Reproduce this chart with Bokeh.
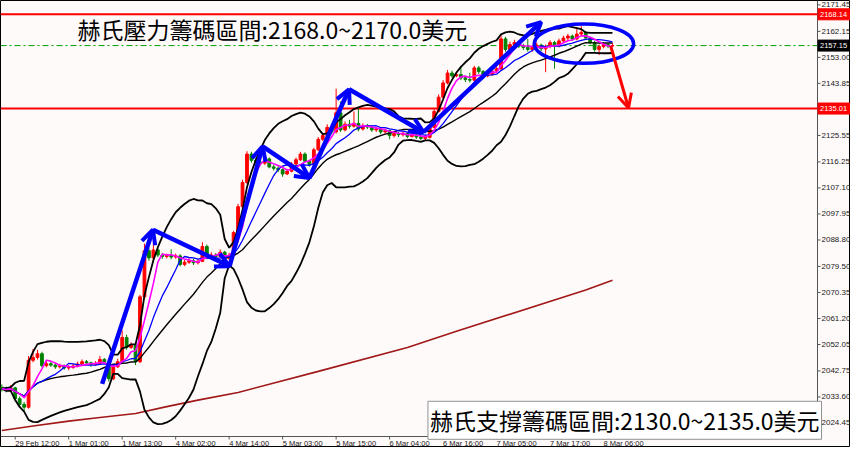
import pandas as pd
from bokeh.plotting import figure
from bokeh.models import Range1d, Label, Arrow, OpenHead, ColumnDataSource
from bokeh.core.properties import value
from bokeh.embed import file_html
from bokeh.resources import INLINE

# ---------------- data ----------------
first_open = 2037.0
closes = [2036.5, 2036.0, 2036.8, 2033.0, 2031.0, 2030.0, 2046.5, 2047.5, 2048.8, 2044.6,
          2045.3, 2044.8, 2044.2, 2044.6, 2043.8, 2044.0, 2044.5, 2045.2, 2046.0, 2045.6,
          2045.0, 2045.3, 2046.8, 2045.8, 2040.0, 2044.2, 2046.0, 2054.5, 2051.0, 2051.8,
          2046.0, 2068.8, 2085.0, 2082.5, 2085.3, 2083.5, 2083.0, 2083.4, 2082.8, 2083.2,
          2080.2, 2081.0, 2081.5, 2080.8, 2081.3, 2086.5, 2082.8, 2083.5, 2083.0, 2084.5,
          2082.3, 2083.5, 2091.4, 2100.5, 2109.0, 2119.0, 2116.8, 2116.2, 2115.8, 2117.3,
          2114.5, 2114.0, 2113.5, 2112.0, 2113.0, 2115.5, 2117.0, 2119.0, 2116.5, 2115.3,
          2120.5, 2124.2, 2125.5, 2128.4, 2126.8, 2133.5, 2127.5, 2129.5, 2128.8, 2129.8,
          2127.8, 2129.0, 2128.5, 2127.5, 2127.8, 2126.8, 2127.2, 2125.5, 2126.2, 2125.8,
          2126.3, 2125.2, 2125.8, 2125.0, 2124.5, 2124.9, 2128.4, 2134.0, 2139.0, 2144.0,
          2147.5, 2146.5, 2147.0, 2145.8, 2145.2, 2145.0, 2149.3, 2148.0, 2146.5, 2147.0,
          2148.2, 2149.0, 2159.5, 2155.8, 2157.5, 2158.2, 2157.0, 2156.5, 2155.8, 2156.5,
          2157.3, 2156.0, 2156.8, 2158.2, 2157.0, 2158.8, 2159.8, 2160.5, 2159.5, 2161.2,
          2161.8, 2159.8, 2158.2, 2155.8, 2156.8, 2157.5, 2157.0, 2157.15]
highs = [2038.0, 2037.2, 2037.8, 2037.2, 2033.8, 2031.8, 2048.0, 2050.5, 2050.2, 2049.5,
         2046.2, 2046.0, 2045.4, 2045.3, 2045.0, 2044.8, 2045.2, 2046.0, 2046.8, 2046.6,
         2046.0, 2046.2, 2048.0, 2047.3, 2046.3, 2045.0, 2047.0, 2057.0, 2055.5, 2052.8,
         2052.3, 2069.5, 2087.5, 2086.0, 2088.0, 2086.0, 2084.3, 2084.0, 2085.5, 2084.0,
         2083.8, 2081.8, 2082.4, 2082.2, 2082.0, 2088.0, 2087.2, 2084.5, 2084.2, 2085.5,
         2085.0, 2084.3, 2092.0, 2101.5, 2110.0, 2120.0, 2119.8, 2117.8, 2117.0, 2118.2,
         2117.8, 2115.2, 2114.8, 2114.0, 2113.8, 2116.2, 2117.8, 2119.8, 2119.6, 2117.0,
         2121.2, 2125.0, 2126.5, 2129.5, 2129.0, 2142.0, 2137.5, 2130.5, 2131.0, 2134.0,
         2135.0, 2129.8, 2129.6, 2129.0, 2128.6, 2128.3, 2128.0, 2127.6, 2127.0, 2126.8,
         2127.0, 2126.8, 2126.5, 2126.3, 2125.6, 2125.8, 2129.0, 2134.8, 2140.0, 2145.0,
         2148.6, 2148.3, 2148.0, 2150.0, 2146.5, 2147.6, 2150.0, 2150.0, 2148.6, 2147.8,
         2149.0, 2149.8, 2161.0, 2160.2, 2158.5, 2159.2, 2158.8, 2157.8, 2159.5, 2157.3,
         2158.2, 2157.8, 2157.5, 2159.0, 2158.8, 2159.6, 2160.6, 2161.3, 2161.0, 2163.5,
         2164.0, 2162.3, 2160.3, 2158.8, 2157.5, 2158.3, 2158.0, 2158.0]
lows = [2035.5, 2035.2, 2035.5, 2032.0, 2030.0, 2028.5, 2029.5, 2045.8, 2046.8, 2044.0,
        2044.0, 2044.2, 2043.5, 2043.6, 2043.2, 2043.0, 2043.5, 2044.0, 2044.8, 2045.0,
        2044.2, 2044.5, 2045.0, 2045.2, 2039.0, 2039.5, 2043.8, 2045.5, 2050.2, 2050.5,
        2044.8, 2045.5, 2068.0, 2081.5, 2082.0, 2082.8, 2082.2, 2082.3, 2082.0, 2082.2,
        2079.5, 2079.6, 2080.4, 2080.0, 2080.2, 2081.0, 2082.0, 2082.3, 2082.2, 2082.6,
        2081.5, 2081.8, 2083.0, 2091.0, 2100.0, 2108.5, 2116.0, 2115.2, 2115.0, 2115.2,
        2114.0, 2113.2, 2112.6, 2111.0, 2111.6, 2112.6, 2115.0, 2116.6, 2115.8, 2114.6,
        2115.0, 2120.0, 2123.6, 2125.0, 2126.0, 2126.2, 2126.8, 2127.0, 2128.0, 2128.3,
        2127.0, 2127.3, 2127.8, 2126.8, 2126.8, 2126.0, 2126.2, 2124.2, 2124.8, 2125.0,
        2125.2, 2124.6, 2124.8, 2124.3, 2123.8, 2124.0, 2124.5, 2128.0, 2133.6, 2138.5,
        2143.5, 2145.8, 2146.0, 2145.0, 2144.3, 2144.2, 2144.6, 2147.2, 2145.4, 2146.0,
        2146.5, 2147.6, 2148.6, 2155.0, 2155.2, 2156.8, 2156.3, 2155.6, 2155.0, 2155.0,
        2156.0, 2155.2, 2147.8, 2156.2, 2149.0, 2156.5, 2158.2, 2159.0, 2158.8, 2159.0,
        2160.8, 2159.2, 2157.6, 2155.0, 2153.8, 2156.2, 2156.3, 2156.6]

# long moving average (dark red), read at sample bars
long_ma_bars = [0, 7, 15, 22, 30, 37, 44, 53, 71, 91, 102, 131, 137]
long_ma_vals = [2021.8, 2023.4, 2025.1, 2026.4, 2027.8, 2030.2, 2032.5, 2035.2,
                2042.6, 2051.0, 2056.7, 2071.2, 2074.6]

time_tick_bars = [3, 15, 27, 39, 51, 63, 75, 87, 99, 111, 123, 135]
time_tick_labels = ["29 Feb 12:00", "1 Mar 01:00", "1 Mar 13:00", "4 Mar 02:00",
                    "4 Mar 14:00", "5 Mar 03:00", "5 Mar 15:00", "6 Mar 04:00",
                    "6 Mar 16:00", "7 Mar 05:00", "7 Mar 17:00", "8 Mar 06:00"]
price_ticks = [2171.45, 2162.15, 2153.00, 2143.85, 2125.55, 2116.25, 2107.10, 2097.95,
               2088.80, 2079.50, 2070.35, 2061.20, 2052.05, 2042.75, 2033.60, 2024.45]

resistance_level = 2168.14
support_level = 2135.01
current_price = 2157.15

# hand-drawn annotations (bar index, price)
trend_bars = [22.5, 33.9, 51.1, 58.5, 69.0, 77.9, 94.6, 121.0]
trend_prices = [2038.2, 2092.4, 2079.6, 2121.7, 2110.6, 2141.8, 2126.7, 2165.4]
down_arrow_bars = [136.6, 140.6]
down_arrow_prices = [2157.0, 2135.2]
ellipse_bar = [130.6]
ellipse_price = [2157.8]
ellipse_w = [22.3]
ellipse_h = [13.8]

top_text = "赫氏壓力籌碼區間:2168.0~2170.0美元"
bottom_text = "赫氏支撐籌碼區間:2130.0~2135.0美元"

# ---------------- derived ----------------
n = len(closes)
idx = list(range(n))
opens = [first_open] + closes[:-1]
s = pd.Series(closes)
ma5 = s.rolling(5, min_periods=1).mean()
ma10 = s.rolling(10, min_periods=1).mean()
mid = s.rolling(20, min_periods=1).mean()
sd = s.rolling(20, min_periods=1).std(ddof=0).fillna(0)
upper = mid + 2 * sd
lower = mid - 2 * sd

BULL = "#ff0000"
BEAR = "#008000"
colors = [BULL if c >= o else BEAR for o, c in zip(opens, closes)]
tops = [max(o, c) for o, c in zip(opens, closes)]
bots = [min(o, c) for o, c in zip(opens, closes)]

# ---------------- layout of the terminal window ----------------
W, H = 850, 447                 # canvas
AXIS_PX_X, AXIS_PX_Y = 817, 436  # price-scale line / time-scale line (pixels)
X0, AX = -0.3, 183.0            # bar range of the chart area
Y_TOP, Y_AX = 2173.0, 2019.7    # price range of the chart area
kx = AXIS_PX_X / (AX - X0)
ky = AXIS_PX_Y / (Y_TOP - Y_AX)
XR = X0 + W / kx
YB = Y_AX - (H - AXIS_PX_Y) / ky

BG = "#fffafa"
AXC = "#555555"
p = figure(width=W, height=H, x_range=Range1d(X0, XR), y_range=Range1d(YB, Y_TOP),
           output_backend="svg", toolbar_location=None,
           background_fill_color=BG, border_fill_color=BG,
           min_border=0, min_border_left=0, min_border_right=0,
           min_border_top=0, min_border_bottom=0)
p.xaxis.visible = False
p.yaxis.visible = False
p.xgrid.visible = False
p.ygrid.visible = False
p.outline_line_color = "black"
p.outline_line_width = 1

# horizontal levels (stop at the price scale)
p.segment(x0=[X0, X0], y0=[resistance_level, support_level],
          x1=[AX, AX], y1=[resistance_level, support_level],
          line_color="#ff0000", line_width=2)
p.segment(x0=[X0], y0=[current_price], x1=[AX], y1=[current_price],
          line_color="#00a000", line_width=1, line_dash="6 3 2 3")

# candles
p.segment(x0=idx, y0=lows, x1=idx, y1=highs, color=colors, line_width=1)
p.vbar(x=idx, width=0.62, top=tops, bottom=bots, fill_color=colors, line_color=colors)

# indicators
p.line(long_ma_bars, long_ma_vals, line_color="#a01818", line_width=1.6)
p.line(idx, upper.tolist(), line_color="black", line_width=1.8)
p.line(idx, mid.tolist(), line_color="black", line_width=1.4)
p.line(idx, lower.tolist(), line_color="black", line_width=1.8)
p.line(idx, ma10.tolist(), line_color="#0000ff", line_width=1.3)
p.line(idx, ma5.tolist(), line_color="#ff00ff", line_width=1.6)

# annotations
trend_src = ColumnDataSource(dict(x0=trend_bars[:-1], y0=trend_prices[:-1],
                                  x1=trend_bars[1:], y1=trend_prices[1:]))
p.add_layout(Arrow(end=OpenHead(size=14, line_width=4, line_color="#0000ff"),
                   x_start="x0", y_start="y0", x_end="x1", y_end="y1",
                   source=trend_src, line_width=4.5, line_color="#0000ff"))
p.add_layout(Arrow(end=OpenHead(size=14, line_width=3, line_color="#ff0000"),
                   x_start=down_arrow_bars[0], y_start=down_arrow_prices[0],
                   x_end=down_arrow_bars[1], y_end=down_arrow_prices[1],
                   line_width=3, line_color="#ff0000"))
p.ellipse(x=ellipse_bar, y=ellipse_price, width=ellipse_w, height=ellipse_h,
          fill_alpha=0, line_color="#0000ff", line_width=3.5)

p.add_layout(Label(x=17.0, y=2163.0, text=top_text, text_baseline="middle",
                   text_font="Noto Sans CJK TC", text_font_size="23px", text_color="black"))
p.add_layout(Label(x=95.6, y=2025.4, text=bottom_text, text_baseline="middle",
                   text_font="Noto Sans CJK TC", text_font_size="23px", text_color="black",
                   background_fill_color="white", border_line_color="#909090",
                   padding=2))

# ---------------- price scale (right) ----------------
p.segment(x0=[AX], y0=[Y_AX], x1=[AX], y1=[Y_TOP], line_color=AXC, line_width=1)
p.segment(x0=[AX] * len(price_ticks), y0=price_ticks,
          x1=[AX + 3 / kx] * len(price_ticks), y1=price_ticks, line_color=AXC, line_width=1)
p.text(x=[AX + 4 / kx] * len(price_ticks), y=price_ticks,
       text=[f"{t:.2f}" for t in price_ticks], text_align="left", text_baseline="middle",
       text_font=value("Liberation Sans"), text_font_size=value("8px"), text_color="#202020")

tag_levels = [resistance_level, current_price, support_level]
tag_colors = ["#ff0000", "black", "#ff0000"]
p.quad(left=[AX + 0.5 / kx] * 3, right=[XR] * 3,
       top=[v + 5.5 / ky for v in tag_levels], bottom=[v - 5.5 / ky for v in tag_levels],
       fill_color=tag_colors, line_color=tag_colors)
p.text(x=[AX + 2.5 / kx] * 3, y=tag_levels, text=[f"{v:.2f}" for v in tag_levels],
       text_align="left", text_baseline="middle", text_font=value("Liberation Sans"),
       text_font_size=value("7.5px"), text_color="white")

# ---------------- time scale (bottom) ----------------
p.segment(x0=[X0], y0=[Y_AX], x1=[AX], y1=[Y_AX], line_color=AXC, line_width=1)
p.segment(x0=time_tick_bars, y0=[Y_AX] * len(time_tick_bars),
          x1=time_tick_bars, y1=[Y_AX - 3 / ky] * len(time_tick_bars),
          line_color=AXC, line_width=1)
p.text(x=time_tick_bars, y=[Y_AX - 2 / ky] * len(time_tick_bars), text=time_tick_labels,
       text_align="left", text_baseline="top", text_font=value("Liberation Sans"),
       text_font_size=value("7.5px"), text_color="#202020")

open("out.html", "w").write(file_html(p, INLINE))
